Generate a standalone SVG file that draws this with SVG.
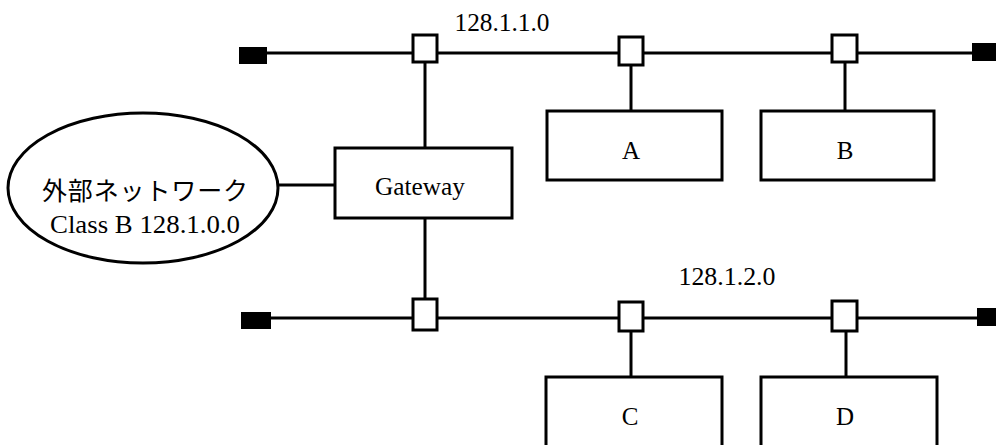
<svg xmlns="http://www.w3.org/2000/svg" width="996" height="445" viewBox="0 0 996 445">
<style>
.ln{stroke:#000;stroke-width:3;fill:none}
.box{fill:#fff;stroke:#000;stroke-width:3}
.tap{fill:#fff;stroke:#000;stroke-width:3}
.term{fill:#000}
.t{font-family:"Liberation Serif","Noto Sans CJK JP",serif;font-size:25px;fill:#000;text-anchor:middle}
</style>
<rect width="996" height="445" fill="#fff"/>
<g id="connectors">
<line class="ln" x1="266" y1="53" x2="974" y2="53"/>
<line class="ln" x1="270" y1="318" x2="979" y2="318"/>
<line class="ln" x1="425" y1="62" x2="425" y2="148"/>
<line class="ln" x1="425" y1="218" x2="425" y2="299"/>
<line class="ln" x1="631" y1="65" x2="631" y2="111"/>
<line class="ln" x1="845" y1="62" x2="845" y2="111"/>
<line class="ln" x1="631" y1="331" x2="631" y2="377"/>
<line class="ln" x1="846" y1="331" x2="846" y2="377"/>
<line class="ln" x1="278" y1="185" x2="335" y2="185"/>
<rect class="term" x="239" y="47" width="28" height="17"/>
<rect class="term" x="972" y="43" width="24" height="18"/>
<rect class="term" x="241" y="312" width="30" height="17"/>
<rect class="term" x="977" y="308" width="19" height="18"/>
<rect class="tap" x="413" y="35" width="24" height="27"/>
<rect class="tap" x="619" y="37" width="24" height="28"/>
<rect class="tap" x="832" y="35" width="25" height="27"/>
<rect class="tap" x="413" y="299" width="24" height="31"/>
<rect class="tap" x="619" y="302" width="24" height="29"/>
<rect class="tap" x="832" y="301" width="25" height="30"/>
<text class="t" x="502" y="31" font-size="27" textLength="95" lengthAdjust="spacingAndGlyphs">128.1.1.0</text>
<text class="t" x="727" y="285" font-size="27" textLength="97" lengthAdjust="spacingAndGlyphs">128.1.2.0</text>
</g>
<g id="external">
<ellipse class="box" cx="143" cy="188" rx="135" ry="75"/>
<text class="t" x="145" y="200" font-size="25" textLength="206" lengthAdjust="spacing">外部ネットワーク</text>
<text class="t" x="145" y="233" font-size="28" textLength="190" lengthAdjust="spacingAndGlyphs">Class B 128.1.0.0</text>
</g>
<g id="gateway">
<rect class="box" x="335" y="148" width="177" height="70"/>
<text class="t" x="420" y="195" font-size="27" textLength="90" lengthAdjust="spacingAndGlyphs">Gateway</text>
</g>
<g id="hostA">
<rect class="box" x="547" y="111" width="175" height="69"/>
<text class="t" x="631" y="159">A</text>
</g>
<g id="hostB">
<rect class="box" x="761" y="111" width="173" height="69"/>
<text class="t" x="845" y="159">B</text>
</g>
<g id="hostC">
<rect class="box" x="546" y="377" width="176" height="80"/>
<text class="t" x="630" y="425">C</text>
</g>
<g id="hostD">
<rect class="box" x="761" y="377" width="176" height="80"/>
<text class="t" x="845" y="425">D</text>
</g>
</svg>
